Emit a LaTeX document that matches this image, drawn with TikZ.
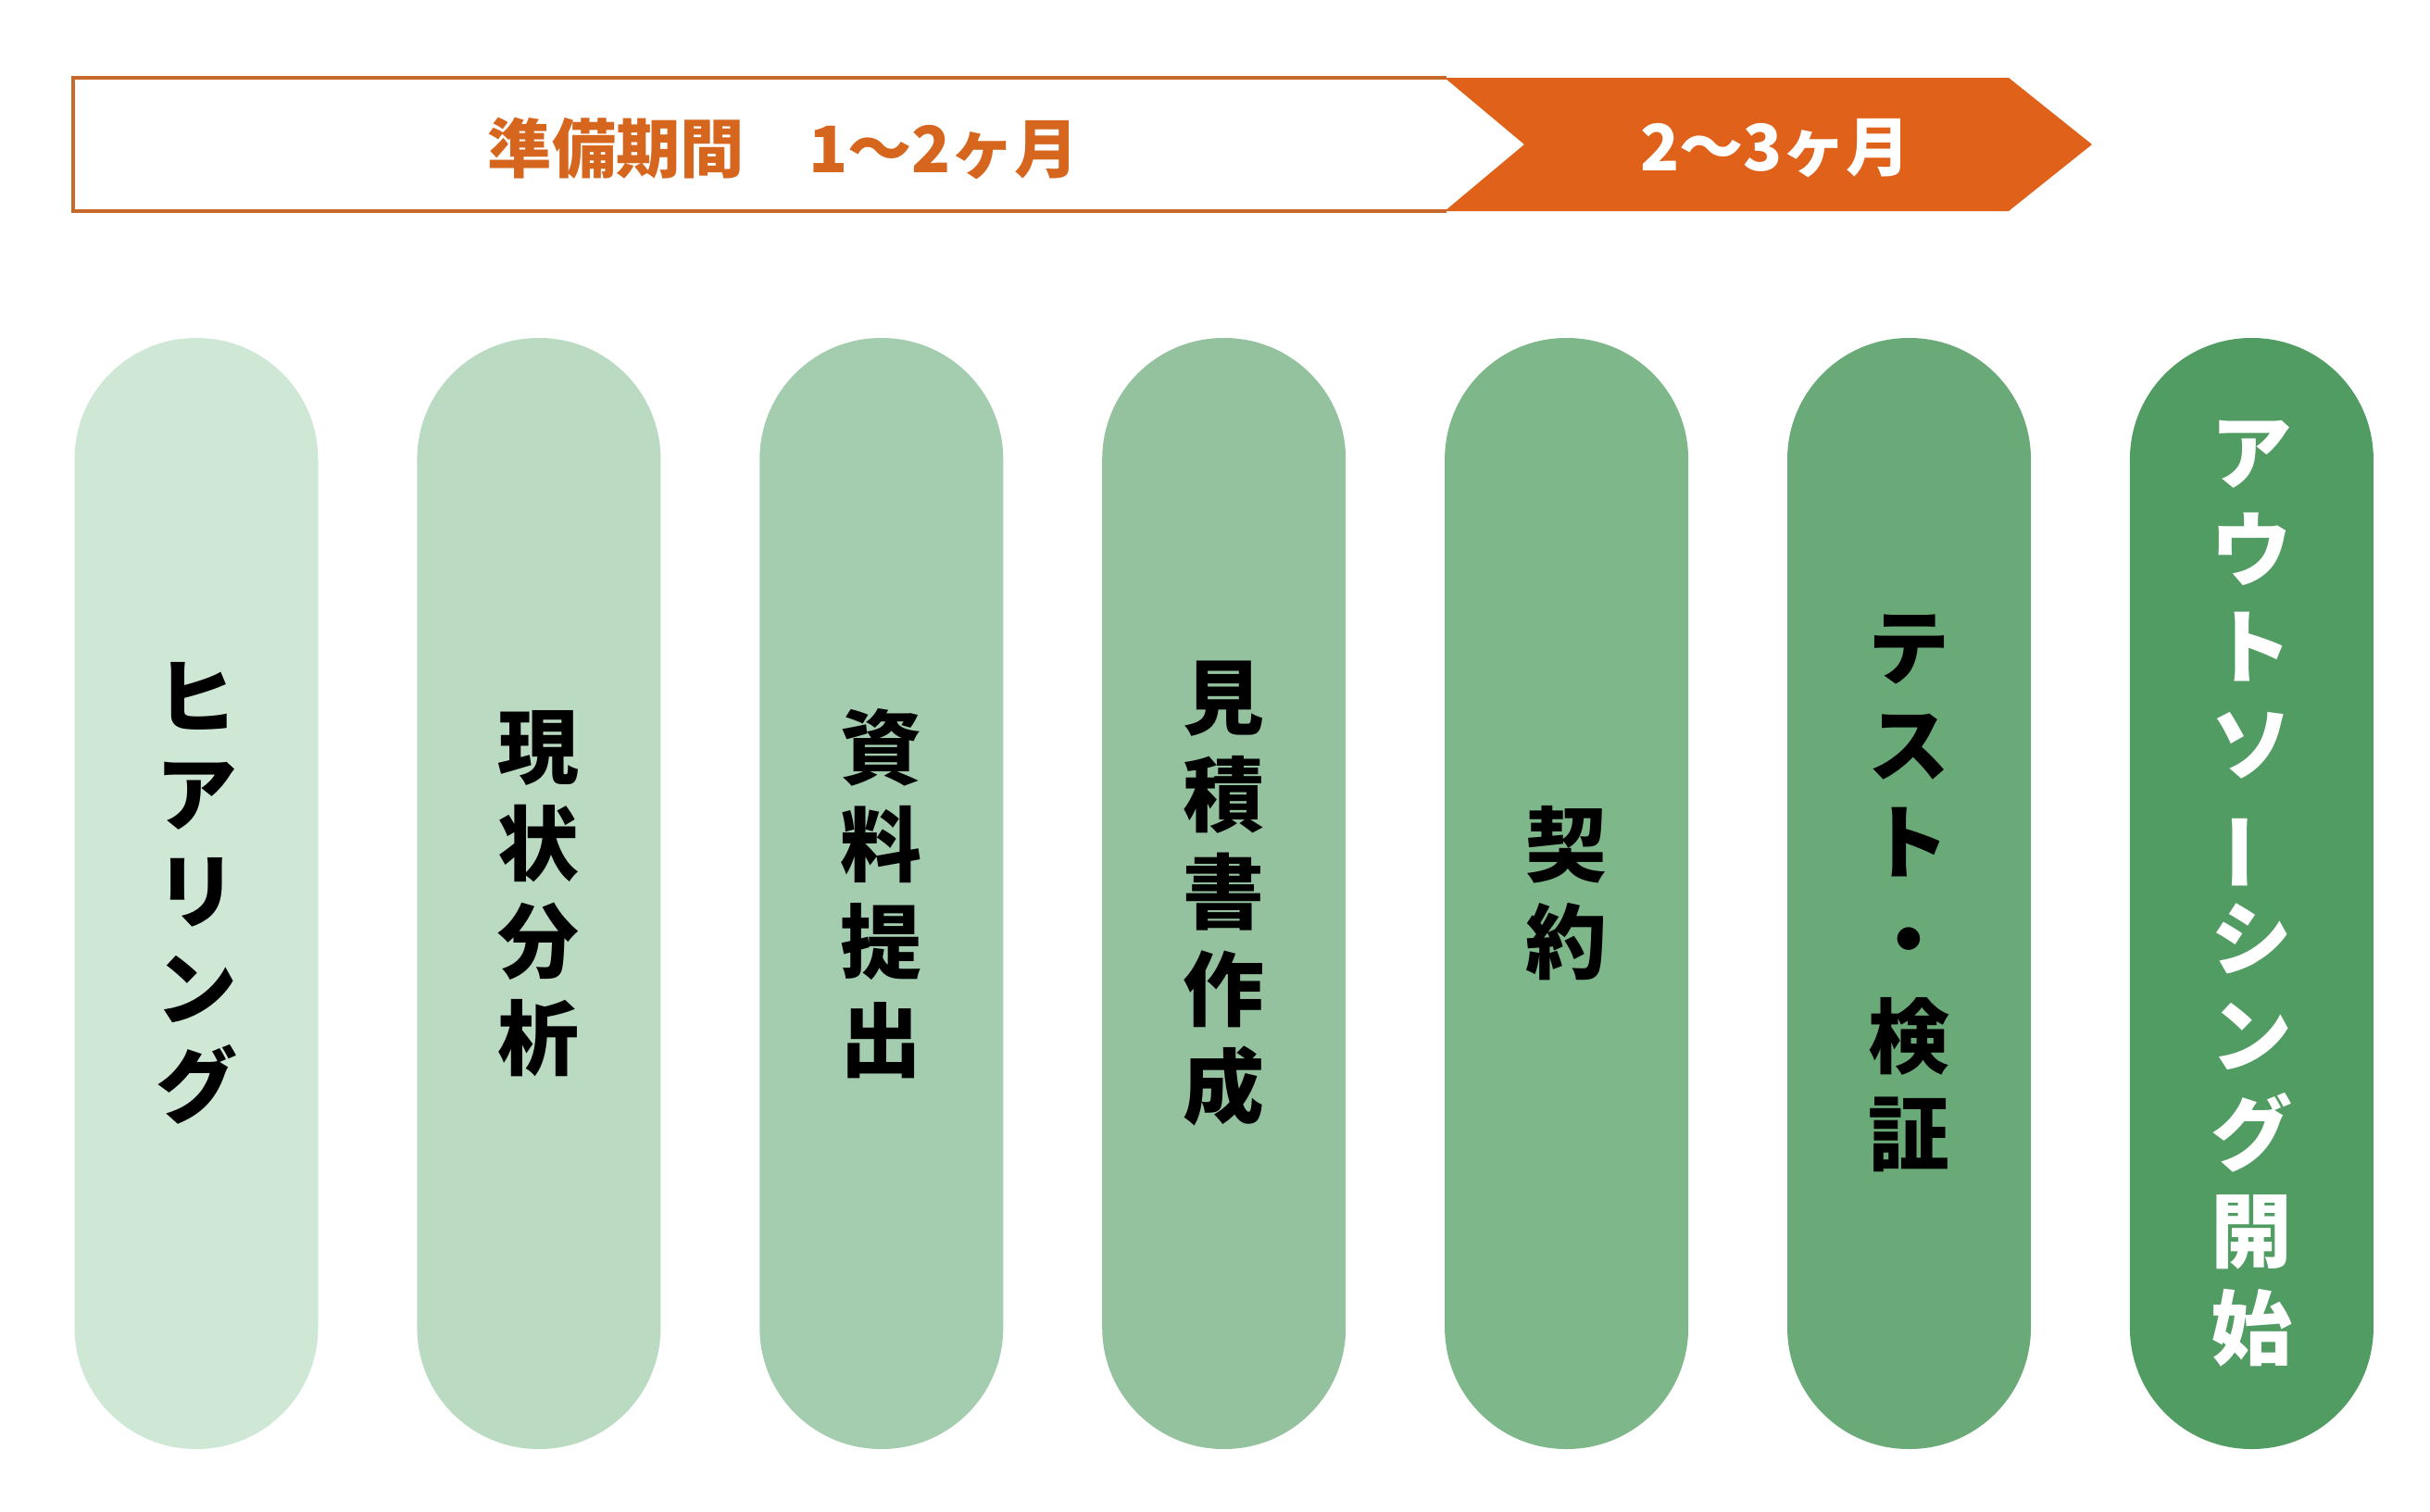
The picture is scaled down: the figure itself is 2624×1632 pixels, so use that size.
\documentclass[tikz,border=0pt]{standalone}
\usepackage{fontspec}
\usepackage{graphicx}
\usetikzlibrary{positioning}
\newfontfamily\jpfont{Noto Sans CJK JP}

\definecolor{barorange}{HTML}{E0621A}
\definecolor{barline}{HTML}{C8692C}
\definecolor{preptext}{HTML}{D6651E}
\definecolor{stepA}{HTML}{CFE8D5}
\definecolor{stepB}{HTML}{BADAC2}
\definecolor{stepC}{HTML}{A3CDAE}
\definecolor{stepD}{HTML}{94C19E}
\definecolor{stepE}{HTML}{7DB78A}
\definecolor{stepF}{HTML}{6AAA78}
\definecolor{stepG}{HTML}{509C62}

\newcommand{\tatebar}{\rotatebox[origin=c]{90}{ー}}

\begin{document}
\begin{tikzpicture}[x=0.1mm,y=-0.1mm,
  pill/.style={rounded corners=13.1mm, minimum width=26.3mm, minimum height=120mm,
    inner sep=0pt, align=center, text=black,
    font=\jpfont\bfseries\fontsize{25}{29.9}\selectfont},
  period/.style={font=\jpfont\bfseries\fontsize{19.7}{24}\selectfont}]

\useasboundingbox (0,0) rectangle (2624,1632);

% time bar
\fill[white] (79,84) rectangle (1650,228);
\draw[barline, line width=1pt] (1562,84) -- (79,84) -- (79,228) -- (1562,228);
\fill[barorange] (1560,84) -- (2169,84) -- (2259,156) -- (2169,228) -- (1560,228) -- (1646,156) -- cycle;
\node[period, text=preptext] (prep) at (846,160) {準備期間　1〜2ヶ月};
\node[period, text=white] (impl) at (1917,160) {2〜3ヶ月};

% steps
\node[pill, fill=stepA] (s1) at (212,965) {ヒ\\ア\\リ\\ン\\グ};
\node[pill, fill=stepB, right=10.55mm of s1] (s2) {現\\状\\分\\析};
\node[pill, fill=stepC, right=10.55mm of s2] (s3) {資\\料\\提\\出};
\node[pill, fill=stepD, right=10.55mm of s3] (s4) {見\\積\\書\\作\\成};
\node[pill, fill=stepE, right=10.55mm of s4] (s5) {契\\約};
\node[pill, fill=stepF, right=10.55mm of s5] (s6) {テ\\ス\\ト\\・\\検\\証};
\node[pill, fill=stepG, text=white, right=10.55mm of s6] (s7) {ア\\ウ\\ト\\ソ\\\tatebar\\シ\\ン\\グ\\開\\始};

\end{tikzpicture}
\end{document}
